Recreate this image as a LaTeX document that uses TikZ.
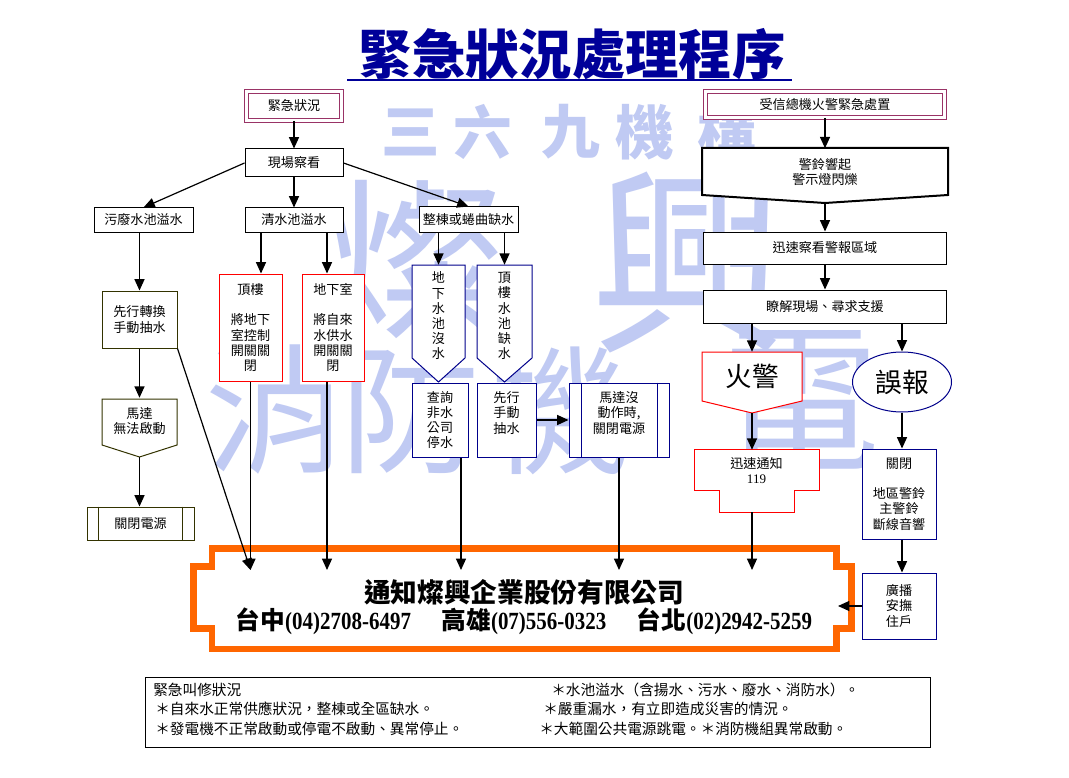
\documentclass[tikz,border=0pt]{standalone}
\usepackage{fontspec}
\setmainfont{Liberation Serif}
\newfontfamily\cjk{Noto Sans CJK TC}
\newfontfamily\telfont{Liberation Serif}[FakeStretch=0.85]
\usetikzlibrary{arrows.meta, calc, math, shapes.geometric}
\definecolor{mypurple}{RGB}{153,51,102}
\definecolor{mynavy}{RGB}{0,0,139}
\definecolor{myolive}{RGB}{51,51,0}
\definecolor{myred}{RGB}{255,0,0}
\definecolor{myorange}{RGB}{255,102,0}
\definecolor{mytitle}{RGB}{0,0,153}
\definecolor{mywater}{RGB}{192,202,243}

\tikzset{
  sz/.style 2 args={minimum width=#1*0.75pt, minimum height=#2*0.75pt},
  box/.style={draw, rectangle, fill=white, inner sep=0pt, align=center, line width=0.75pt,
    font=\cjk\fontsize{9.8}{11.4}\selectfont},
  txt/.style={inner sep=0pt, align=center, font=\cjk\fontsize{9.8}{11.4}\selectfont},
  arr/.style={-{Triangle[length=8.5pt,width=7.5pt]}, line width=0.9pt},
  wm/.style={text=mywater, inner sep=0pt},
  note/.style={inner sep=0pt, anchor=west, font=\cjk\fontsize{11}{13}\selectfont},
}

\begin{document}
\begin{tikzpicture}[x=0.75pt, y=-0.75pt]
\tikzmath{
\fl=193.5; \fn=212; \frn=836.5; \fr=851.5;
\ft=548.5; \fb=649; \fs=566.5; \fu=628.5;
}
\fill[white] (0,0) rectangle (1069,777);
\useasboundingbox (0,0) rectangle (1069,777);

%%%%%%%%%% watermark
\foreach \c/\x in {三/411,六/483,九/571,機/645,構/727}
  \node[wm, font=\cjk\bfseries\fontsize{44}{44}\selectfont] at (\x,132) {\c};
\node[wm, font=\cjk\fontsize{135}{135}\selectfont] at (415,262) {燦};
\node[wm, font=\cjk\fontsize{150}{150}\selectfont] at (690,262) {興};
\foreach \c/\x in {消/275,防/410,機/560}
  \node[wm, font=\cjk\fontsize{105}{105}\selectfont] at (\x,410) {\c};
\node[wm, font=\cjk\fontsize{120}{120}\selectfont] at (800,400) {電};

%%%%%%%%%% title
\node[font=\cjk\bfseries\fontsize{40}{40}\selectfont, text=mytitle] (title) at (572,54) {緊急狀況處理程序};
\draw[mytitle, line width=1.5pt] (347,80) -- (792,80);

%%%%%%%%%% left part
\node[box, draw=mypurple, double distance=2.25pt, sz={95}{29}] (jinji) at (294,106) {緊急狀況};
\node[box, sz={98}{28}] (xianchang) at (294,163) {現場察看};
\node[box, sz={99}{24}] (wufei) at (143.5,220) {污廢水池溢水};
\node[box, sz={98}{24}] (qingshui) at (294,220) {清水池溢水};
\node[box, sz={99}{25}] (zhengdong) at (468.5,219.5) {整棟或蜷曲缺水};
\draw[arr] (jinji) -- (xianchang);
\draw[arr] (xianchang.west) -- (wufei.north);
\draw[arr] (xianchang) -- (qingshui);
\draw[arr] (xianchang.east) -- (zhengdong.north);

\node[box, draw=myolive, sz={75}{57}] (xianxing) at (139.5,319.5) {先行轉換\\手動抽水};
\draw[arr] (xianxing.north |- wufei.south) -- (xianxing.north);

\filldraw[draw=myolive, fill=white, line width=0.75pt] (102,399) -- (177,399) -- (177,445) -- (139.5,457) -- (102,445) -- cycle;
\node[txt, sz={75}{46}] (mada) at (139.5,421) {馬達\\無法啟動};
\coordinate (mada-tip) at (139.5,457);
\draw[arr] (xianxing) -- (mada);

\node[box, draw=myolive, sz={107}{33}] (guanbi1) at (140.5,523.5) {關閉電源};
\draw[myolive, line width=0.75pt] ([xshift=9pt]guanbi1.north west) -- ([xshift=9pt]guanbi1.south west)
  ([xshift=-9pt]guanbi1.north east) -- ([xshift=-9pt]guanbi1.south east);
\draw[arr] (mada-tip) -- (mada-tip |- guanbi1.north);

\node[box, draw=myred, sz={63}{107}] (dinglou) at (250.5,327.5) {頂樓\\~\\將地下\\室控制\\開關關\\閉};
\node[box, draw=myred, sz={62}{107}] (dixiashi) at (333,327.5) {地下室\\~\\將自來\\水供水\\開關關\\閉};
\draw[arr] ([xshift=-24.75pt]qingshui.south) -- ([xshift=-24.75pt]qingshui.south |- dinglou.north);
\draw[arr] ([xshift=24.75pt]qingshui.south) -- ([xshift=24.75pt]qingshui.south |- dixiashi.north);

%%%%%%%%%% middle part
\filldraw[draw=mynavy, fill=white, line width=0.75pt] (412,265) -- (465,265) -- (465,358) -- (438.5,382) -- (412,358) -- cycle;
\filldraw[draw=mynavy, fill=white, line width=0.75pt] (477,265) -- (532,265) -- (532,358) -- (504.5,382) -- (477,358) -- cycle;
\node[txt, sz={53}{102}] (dixiachi) at (438.5,316) {地\\下\\水\\池\\沒\\水};
\node[txt, sz={55}{102}] (dinglouchi) at (504.5,316) {頂\\樓\\水\\池\\缺\\水};
\draw[arr] (dixiachi.north |- zhengdong.south) -- (dixiachi.north);
\draw[arr] (dinglouchi.north |- zhengdong.south) -- (dinglouchi.north);

\node[box, draw=mynavy, sz={56}{74}] (chaxun) at (440,420) {查詢\\非水\\公司\\停水};
\node[box, draw=mynavy, sz={59}{74}] (shoudong) at (506.5,420) {先行\\手動\\抽水\\~};
\node[box, draw=mynavy, sz={100}{74}] (madamei) at (619,420) {馬達沒\\動作時,\\關閉電源\\~};
\draw[mynavy, line width=0.75pt] ([xshift=9.5pt]madamei.north west) -- ([xshift=9.5pt]madamei.south west)
  ([xshift=-9pt]madamei.north east) -- ([xshift=-9pt]madamei.south east);
\draw[arr] (shoudong.east) -- (madamei.west);

%%%%%%%%%% right part
\node[box, draw=mypurple, double distance=2.25pt, sz={239}{26}] (shouxin) at (825,104.5) {受信總機火警緊急處置};
\filldraw[fill=white, line width=1.5pt] (702,148) -- (948,148) -- (948,195) -- (825,203) -- (702,195) -- cycle;
\node[txt, sz={246}{47}] (jingling) at (825,172) {警鈴響起\\警示燈閃爍};
\coordinate (jingling-tip) at (825,203);
\draw[arr] (shouxin) -- (jingling);
\node[box, sz={243}{32}] (xunsu) at (825,248) {迅速察看警報區域};
\draw[arr] (jingling-tip) -- (xunsu.north);
\node[box, sz={243}{33}] (liaojie) at (825,306.5) {瞭解現場、尋求支援};
\draw[arr] (xunsu) -- (liaojie);

\filldraw[draw=myred, fill=white, line width=0.75pt] (702,352) -- (802,352) -- (802,401) -- (752,413) -- (702,401) -- cycle;
\node[txt, sz={100}{49}, font=\cjk\fontsize{20}{20}\selectfont] (huojing) at (752,376.5) {火警};
\coordinate (huojing-tip) at (752,413);
\node[box, ellipse, draw=mynavy, sz={99}{60}, font=\cjk\fontsize{20}{20}\selectfont] (wubao) at (902,382) {誤報};
\draw[arr] (liaojie.south -| huojing.north) -- (huojing.north);
\draw[arr] (liaojie.south -| wubao.north) -- (wubao.north);

\filldraw[draw=myred, fill=white, line width=0.75pt] (694,449) -- (819,449) -- (819,490) -- (794,490) -- (794,512) -- (719,512) -- (719,490) -- (694,490) -- cycle;
\node[txt, sz={125}{41}] (tongzhi) at (756.5,470.5) {迅速通知\\{\rmfamily 119}};
\coordinate (tongzhi-b) at (752,512);
\draw[arr] (huojing-tip) -- (huojing-tip |- tongzhi.north);

\node[box, draw=mynavy, sz={74}{90}] (guanbi2) at (899,494) {關閉\\~\\地區警鈴\\主警鈴\\斷線音響};
\node[box, draw=mynavy, sz={74}{66}] (guangbo) at (899,606) {廣播\\安撫\\住戶};
\draw[arr] (wubao.south) -- (wubao.south |- guanbi2.north);
\draw[arr] (wubao.south |- guanbi2.south) -- (wubao.south |- guangbo.north);

%%%%%%%%%% company frame
\draw[myorange, line width=5.2pt] (\fn,\ft) -- (\frn,\ft) -- (\frn,\fs) -- (\fr,\fs) -- (\fr,\fu) -- (\frn,\fu)
  -- (\frn,\fb) -- (\fn,\fb) -- (\fn,\fu) -- (\fl,\fu) -- (\fl,\fs) -- (\fn,\fs) -- cycle;
\coordinate (ftop) at (0,570);
\coordinate (fright) at (838,0);
\node[font=\cjk\bfseries\fontsize{20}{20}\selectfont, inner sep=0pt] (company) at (524,592) {通知燦興企業股份有限公司};
\node[font=\telfont\bfseries\fontsize{18.5}{18.5}\selectfont, inner sep=0pt] (phone) at (524,621)
  {{\cjk 台中}(04)2708-6497\hspace{23pt}{\cjk 高雄}(07)556-0323\hspace{23pt}{\cjk 台北}(02)2942-5259};

\draw[arr] (dinglou.south) -- (dinglou.south |- ftop);
\draw[arr] (xianxing.south east) -- (dinglou.south |- ftop);
\draw[arr] ([xshift=-4.5pt]dixiashi.south) -- ([xshift=-4.5pt]dixiashi.south |- ftop);
\draw[arr] ([xshift=15.75pt]chaxun.south) -- ([xshift=15.75pt]chaxun.south |- ftop);
\draw[arr] (madamei.south) -- (madamei.south |- ftop);
\draw[arr] (tongzhi-b) -- (tongzhi-b |- ftop);
\draw[arr] (guangbo.west) -- (guangbo.west -| fright);

%%%%%%%%%% notes
\node[draw, line width=0.75pt, sz={785}{70}] (notes) at (537.5,712) {};
\node[note] at (153,690) {緊急叫修狀況};
\node[note] at (155,709) {＊自來水正常供應狀況，整棟或全區缺水。};
\node[note] at (155,729) {＊發電機不正常啟動或停電不啟動、異常停止。};
\node[note] at (551,690) {＊水池溢水（含揚水、污水、廢水、消防水）。};
\node[note] at (543,709) {＊嚴重漏水，有立即造成災害的情況。};
\node[note] at (539,729) {＊大範圍公共電源跳電。＊消防機組異常啟動。};
\end{tikzpicture}
\end{document}
